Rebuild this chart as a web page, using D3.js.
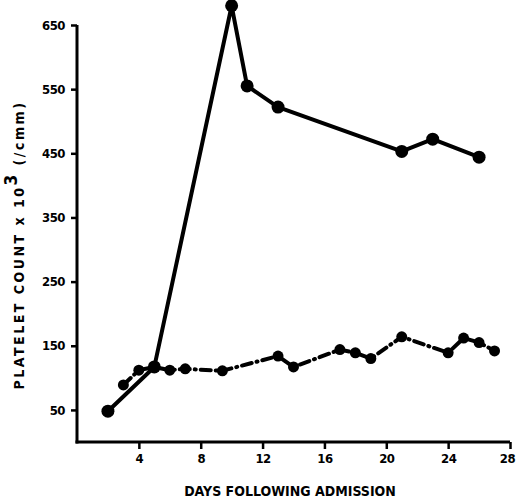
<!DOCTYPE html>
<html>
<head>
<meta charset="utf-8">
<script src="https://cdn.jsdelivr.net/npm/d3@7"></script>
<style>
  body { margin: 0; background: #fff; }
  svg text { font-family: "DejaVu Sans Condensed", "DejaVu Sans", sans-serif; font-weight: bold; fill: #000; }
</style>
</head>
<body>
<svg id="chart" width="516" height="504"></svg>
<script>
// solid series (upper)
const solidDays = [2, 5, 10, 11, 13, 21, 23, 26];
const solidVals = [48, 117, 680, 555, 522, 453, 472, 444];

// dash-dot series (lower)
const dashDays = [3, 4, 5, 6, 7, 9.4, 13, 14, 17, 18, 19, 21, 24, 25, 26, 27];
const dashVals = [89, 112, 117, 112, 114, 111, 134, 117, 144, 139, 130, 164, 139, 162, 155, 142];

const xTicks = [4, 8, 12, 16, 20, 24, 28];
const yTicks = [50, 150, 250, 350, 450, 550, 650];

const svg = d3.select("#chart");
const x = d3.scaleLinear().domain([0, 28]).range([77, 510]);
const y = d3.scaleLinear().domain([0, 650]).range([442, 25]);

// axes
const yAxis = svg.append("g")
  .attr("transform", "translate(77,0)")
  .call(d3.axisLeft(y).tickValues(yTicks).tickSize(6).tickSizeOuter(0).tickPadding(6));
yAxis.select(".domain").attr("stroke-width", 3).attr("d", `M0,${y(650)}V${y(0) + 1.5}`);
yAxis.selectAll(".tick line").attr("stroke-width", 2.5);
yAxis.selectAll(".tick text").style("font-size", "13px").style("letter-spacing", "-0.5px");

const xAxis = svg.append("g")
  .attr("transform", `translate(0,${y(0)})`)
  .call(d3.axisBottom(x).tickValues(xTicks).tickSize(7).tickSizeOuter(0).tickPadding(5));
xAxis.select(".domain").attr("stroke-width", 3).attr("d", `M${x(0) - 1.5},0H${x(28)}`);
xAxis.selectAll(".tick line").attr("stroke-width", 2.5);
xAxis.selectAll(".tick text").style("font-size", "13px").style("letter-spacing", "-0.5px")
  .attr("dx", d => d === 28 ? -3 : 0);

// lines
const solid = solidDays.map((d, i) => [d, solidVals[i]]);
const dashed = dashDays.map((d, i) => [d, dashVals[i]]);
const line = d3.line().x(d => x(d[0])).y(d => y(d[1]));

svg.append("path").datum(dashed)
  .attr("d", line).attr("fill", "none").attr("stroke", "#000")
  .attr("stroke-width", 4).attr("stroke-linecap", "round")
  .attr("stroke-dasharray", "10,5,1,5");

svg.append("path").datum(solid)
  .attr("d", line).attr("fill", "none").attr("stroke", "#000")
  .attr("stroke-width", 4).attr("stroke-linejoin", "round");

svg.append("g").selectAll("circle").data(dashed).enter().append("circle")
  .attr("cx", d => x(d[0])).attr("cy", d => y(d[1])).attr("r", 5.5).attr("fill", "#000");
svg.append("g").selectAll("circle").data(solid).enter().append("circle")
  .attr("cx", d => x(d[0])).attr("cy", d => y(d[1])).attr("r", 6.5).attr("fill", "#000");

// titles
svg.append("text")
  .attr("x", 290).attr("y", 496)
  .attr("text-anchor", "middle")
  .style("font-size", "14px")
  .text("DAYS FOLLOWING ADMISSION");

const yl = svg.append("text")
  .attr("transform", "translate(24,245) rotate(-90)")
  .attr("text-anchor", "middle")
  .style("font-size", "14px")
  .style("letter-spacing", "2.5px");
yl.append("tspan").text("PLATELET COUNT x 10");
yl.append("tspan").attr("dy", -7).style("font-size", "17px").text("3");
yl.append("tspan").attr("dy", 7).text(" (/cmm)");
</script>
</body>
</html>
